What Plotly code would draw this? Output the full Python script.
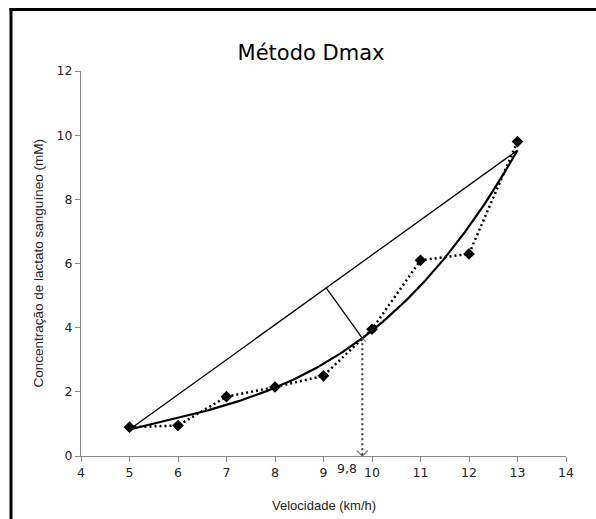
import numpy as np
import plotly.graph_objects as go

# ---- data ----
velocidade = [5, 6, 7, 8, 9, 10, 11, 12, 13]
lactato = [0.9, 0.95, 1.85, 2.15, 2.5, 3.95, 6.1, 6.3, 9.8]
dmax_x = 9.8
dmax_label = "9,8"
x_ticks = list(range(4, 15))
y_ticks = list(range(0, 13, 2))

# ---- derived (trendline fit through the library) ----
coef = np.polyfit(velocidade, lactato, 3)
poly = np.poly1d(coef)
xc = np.linspace(velocidade[0], velocidade[-1], 200)
yc = poly(xc)
x0, x1 = velocidade[0], velocidade[-1]
y0, y1 = poly(x0), poly(x1)
yd = poly(dmax_x)

# body margin is removed by the post script, so the figure fills the window
W, H = 596, 519
L, R, T, B = 81, 30, 71, 63
PW, PH = W - L - R, H - T - B

# perpendicular foot (visual perpendicular in plot pixel space)
sx = PW / 10.0
sy = PH / 12.0
px, py = dmax_x * sx, yd * sy
ax_, ay_ = x0 * sx, y0 * sy
bx_, by_ = x1 * sx, y1 * sy
dx, dy = bx_ - ax_, by_ - ay_
t = ((px - ax_) * dx + (py - ay_) * dy) / (dx * dx + dy * dy)
fx, fy = (ax_ + t * dx) / sx, (ay_ + t * dy) / sy

fig = go.Figure()
fig.add_trace(go.Scatter(x=[x0, x1], y=[y0, y1], mode="lines",
                         line=dict(color="black", width=1.3), hoverinfo="skip"))
fig.add_trace(go.Scatter(x=[fx, dmax_x], y=[fy, yd], mode="lines",
                         line=dict(color="black", width=1.3), hoverinfo="skip"))
fig.add_trace(go.Scatter(x=xc, y=yc, mode="lines",
                         line=dict(color="black", width=2.2), hoverinfo="skip"))
fig.add_trace(go.Scatter(x=[dmax_x, dmax_x], y=[yd, 0], mode="lines",
                         line=dict(color="#333333", width=2, dash="2px,3px"), hoverinfo="skip"))
fig.add_trace(go.Scatter(x=velocidade, y=lactato, mode="lines+markers",
                         line=dict(color="black", width=2.5, dash="2px,3px"),
                         marker=dict(symbol="diamond", size=9, color="black")))
fig.add_trace(go.Scatter(x=[dmax_x, dmax_x], y=[0, yd], mode="markers",
                         marker=dict(symbol="x-thin", size=[11, 7],
                                     line=dict(color="#444444", width=1.2)),
                         hoverinfo="skip"))

frame_left = (11 - L) / PW
frame_top = 1 + (T - 9.5) / PH
frame_right = (W - L) / PW
frame_bottom = -(B) / PH

fig.update_layout(
    width=W, height=H,
    margin=dict(l=L, r=R, t=T, b=B),
    paper_bgcolor="white", plot_bgcolor="white",
    showlegend=False,
    title=dict(text="Método Dmax", x=(311 - L) / PW, xref="paper", xanchor="center",
               y=1 - 53 / H, yanchor="middle",
               font=dict(family="DejaVu Sans", size=21, color="black")),
    xaxis=dict(range=[4, 14], tickvals=x_ticks, ticktext=[str(v) for v in x_ticks],
               showgrid=False, zeroline=False, showline=True, linecolor="#888888", linewidth=1.3,
               ticks="outside", ticklen=5, tickcolor="#888888",
               tickfont=dict(family="DejaVu Sans", size=12.5, color="#222222")),
    yaxis=dict(range=[0, 12], tickvals=y_ticks,
               showgrid=False, zeroline=False, showline=True, linecolor="#888888", linewidth=1.3,
               ticks="outside", ticklen=5, tickcolor="#888888",
               tickfont=dict(family="DejaVu Sans", size=12.5, color="#222222")),
    shapes=[
        dict(type="line", xref="paper", yref="paper",
             x0=frame_left, x1=frame_left, y0=frame_bottom, y1=frame_top + 0.004,
             line=dict(color="black", width=3)),
        dict(type="line", xref="paper", yref="paper",
             x0=frame_left - 0.003, x1=frame_right, y0=frame_top, y1=frame_top,
             line=dict(color="black", width=3)),
    ],
    annotations=[
        dict(text="Velocidade (km/h)", xref="paper", yref="paper", x=0.5,
             y=-(505 - (H - B)) / PH, showarrow=False, yanchor="middle",
             font=dict(family="Liberation Sans", size=13, color="#222222")),
        dict(text="Concentração de lactato sanguíneo (mM)", xref="paper", yref="paper",
             x=-(L - 38) / PW, y=0.5, textangle=-90, showarrow=False,
             xanchor="center", yanchor="middle",
             font=dict(family="Liberation Sans", size=13.5, color="#222222")),
        dict(text=dmax_label, x=dmax_x, y=0, xref="x", yref="y", showarrow=False,
             xanchor="right", yanchor="middle", xshift=-3, yshift=-12,
             font=dict(family="DejaVu Sans", size=12.5, color="#222222")),
    ],
)

fig.write_html(
    "out.html",
    config={"displayModeBar": False},
    post_script="document.documentElement.style.margin='0';"
                "document.documentElement.style.overflow='hidden';"
                "document.body.style.margin='0';"
                "document.body.style.overflow='hidden';",
)
